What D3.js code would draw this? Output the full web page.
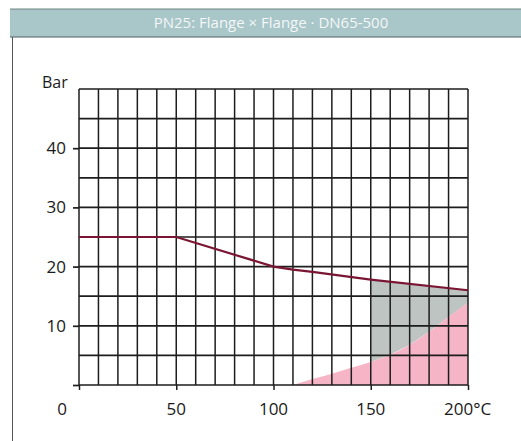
<!DOCTYPE html>
<html><head><meta charset="utf-8">
<script src="https://cdn.jsdelivr.net/npm/d3@7"></script>
<style>
html,body{margin:0;padding:0;background:#fff;}
svg{display:block;}
text{font-family:"Open Sans","Noto Sans",sans-serif;}
</style></head>
<body>
<script>
const title = "PN25: Flange × Flange · DN65-500";
const yTicks = [10, 20, 30, 40];
const xTicks = [0, 50, 100, 150, 200];
const xTickLabels = ["0", "50", "100", "150", "200°C"];
const yLabel = "Bar";
// pressure limit line (temperature °C, pressure bar)
const lineTemp = [0, 50, 100, 110, 120, 150, 200];
const linePress = [25, 25, 20, 19.5, 19.1, 17.8, 16];
// pink boundary curve
const pinkTemp = [110, 120, 130, 140, 150, 160, 170, 180, 190, 200];
const pinkPress = [0, 1.0, 1.9, 2.9, 3.9, 5.1, 6.8, 9.0, 11.5, 13.9];

const W = 521, H = 441;
const svg = d3.select("body").append("svg").attr("width", W).attr("height", H);

const x = d3.scaleLinear().domain([0, 200]).range([79, 468]);
const y = d3.scaleLinear().domain([0, 50]).range([385, 89]);

// frame / title bar
svg.append("line").attr("x1", 12.5).attr("x2", 12.5).attr("y1", 37).attr("y2", H)
  .attr("stroke", "#555").attr("stroke-width", 1);
svg.append("rect").attr("x", 10).attr("y", 9).attr("width", W - 10).attr("height", 28)
  .attr("fill", "#a9c6c9");
svg.append("line").attr("x1", 10).attr("x2", W).attr("y1", 9).attr("y2", 9).attr("stroke", "#6f8486").attr("stroke-width", 1);
svg.append("line").attr("x1", 10).attr("x2", W).attr("y1", 37).attr("y2", 37).attr("stroke", "#4f5f60").attr("stroke-width", 1);
svg.append("text").attr("x", 271).attr("y", 28).attr("text-anchor", "middle")
  .attr("fill", "#f3f7f7").attr("font-size", 15).text(title);

const lineData = lineTemp.map((t, i) => [t, linePress[i]]);
const pinkData = pinkTemp.map((t, i) => [t, pinkPress[i]]);
const lineAt = t => {
  for (let i = 1; i < lineData.length; i++) {
    if (t <= lineData[i][0]) {
      const [t0, p0] = lineData[i - 1], [t1, p1] = lineData[i];
      return p0 + (p1 - p0) * (t - t0) / (t1 - t0);
    }
  }
  return lineData[lineData.length - 1][1];
};
const pinkAt = t => {
  if (t <= pinkData[0][0]) return 0;
  for (let i = 1; i < pinkData.length; i++) {
    if (t <= pinkData[i][0]) {
      const [t0, p0] = pinkData[i - 1], [t1, p1] = pinkData[i];
      return p0 + (p1 - p0) * (t - t0) / (t1 - t0);
    }
  }
  return pinkData[pinkData.length - 1][1];
};

// grey area between 150 and 200
const greyTemps = lineTemp.filter(t => t >= 150).concat(pinkTemp.filter(t => t >= 150));
const gT = Array.from(new Set(greyTemps)).sort((a, b) => a - b);
const greyArea = d3.area().x(d => x(d)).y0(d => y(pinkAt(d))).y1(d => y(lineAt(d)));
svg.append("path").datum(gT).attr("d", greyArea).attr("fill", "#bdc4c2");

// pink area
const pinkArea = d3.area().x(d => x(d[0])).y0(y(0)).y1(d => y(d[1])).curve(d3.curveMonotoneX);
svg.append("path").datum(pinkData).attr("d", pinkArea).attr("fill", "#f6b5c7");

// grid
const g = svg.append("g");
const vx = d3.range(0, 201, 10);
const hy = d3.range(0, 51, 5);
g.selectAll("line.v").data(vx).enter().append("line")
  .attr("x1", d => x(d)).attr("x2", d => x(d)).attr("y1", y(50)).attr("y2", y(0))
  .attr("stroke", "#1d1d1d").attr("stroke-width", 1.5);
g.selectAll("line.h").data(hy).enter().append("line")
  .attr("x1", x(0)).attr("x2", x(200)).attr("y1", d => y(d)).attr("y2", d => y(d))
  .attr("stroke", "#1d1d1d").attr("stroke-width", 1.7);

// axes ticks
const yAxis = d3.axisLeft(y).tickValues([0].concat(yTicks)).tickSize(6).tickFormat(d => d === 0 ? "" : d);
const ya = svg.append("g").attr("transform", `translate(${x(0)},0)`).call(yAxis);
ya.select(".domain").remove();
ya.selectAll("line").attr("stroke", "#1d1d1d").attr("stroke-width", 1.7);
ya.selectAll("text").attr("font-size", 17).attr("fill", "#1a1a1a").attr("x", -13)
  .attr("font-family", '"Open Sans","Noto Sans",sans-serif');

const xAxis = d3.axisBottom(x).tickValues(xTicks).tickSize(5).tickFormat("");
const xa = svg.append("g").attr("transform", `translate(0,${y(0)})`).call(xAxis);
xa.select(".domain").remove();
xa.selectAll("line").attr("stroke", "#1d1d1d").attr("stroke-width", 1.5);

svg.selectAll("text.xl").data(xTicks).enter().append("text")
  .attr("x", (d, i) => i === 0 ? x(0) - 17 : (i === xTicks.length - 1 ? x(d) - 24 : x(d)))
  .attr("y", 415)
  .attr("text-anchor", (d, i) => i === xTicks.length - 1 ? "start" : "middle")
  .attr("font-size", 17).attr("fill", "#1a1a1a")
  .text((d, i) => xTickLabels[i]);

svg.append("text").attr("x", 42).attr("y", 88).attr("font-size", 16).attr("fill", "#1a1a1a").text(yLabel);

// limit line
const ln = d3.line().x(d => x(d[0])).y(d => y(d[1]));
svg.append("path").datum(lineData).attr("d", ln).attr("fill", "none")
  .attr("stroke", "#7a1633").attr("stroke-width", 2.2);
</script>
</body></html>
